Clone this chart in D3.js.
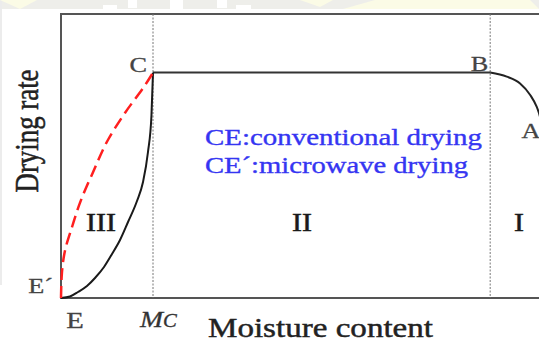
<!DOCTYPE html>
<html lang="en">
<head>
  <meta charset="UTF-8">
  <title>Drying rate curve</title>
  <script src="https://d3js.org/d3.v7.min.js"></script>
  <style>
    body { margin: 0; background: #fff; }
  </style>
</head>
<body>
<div id="chart"></div>
<script>
// key moisture contents (E, Mc, B) and the constant rate of period II
const moistureE = 0;
const moistureMc = 0.2;
const moistureB = 0.933;
const constantRate = 1.0;

// conventional drying, falling-rate period III (E -> C)
const convMoisture = [0, 0.0196, 0.037, 0.0565, 0.0739, 0.0935, 0.1109, 0.1283, 0.1457, 0.1652, 0.1783, 0.1891, 0.1967, 0.2];
const convRate     = [0, 0.0067, 0.0266, 0.0532, 0.0887, 0.1375, 0.1952, 0.2573, 0.3372, 0.4303, 0.5146, 0.6477, 0.8119, 1.0];

// microwave drying (E' -> C)
const microMoisture = [0, 0.002, 0.009, 0.024, 0.041, 0.059, 0.067, 0.102, 0.139, 0.183, 0.2];
const microRate     = [0, 0.111, 0.213, 0.315, 0.421, 0.510, 0.546, 0.701, 0.821, 0.945, 1.0];

// warm-up period I (B -> A)
const warmMoisture = [0.933, 0.969, 0.998, 1.020, 1.034, 1.039, 1.048];
const warmRate     = [1.0, 0.982, 0.952, 0.901, 0.849, 0.821, 0.745];

const legendLines = ["CE:conventional drying", "CE\u00B4:microwave drying"];
const zoneLabels = ["III", "II", "I"];

const FONT = "'Liberation Serif', 'Times New Roman', Times, serif";
const width = 539, height = 342;
const svg = d3.select("#chart").append("svg")
  .attr("width", width)
  .attr("height", height)
  .attr("font-family", FONT);

const x = d3.scaleLinear().domain([0, 1.1]).range([61, 567]);
const y = d3.scaleLinear().domain([0, 1.26]).range([298, 14]);

// faint scanned background at the top
svg.append("rect").attr("x", 0).attr("y", 0).attr("width", width).attr("height", 9).attr("fill", "#eeeeea");
svg.append("rect").attr("x", 0).attr("y", 0).attr("width", 2).attr("height", 285).attr("fill", "#ececec");
[[0, 0, 37, 0, 20, 9], [300, 0, 333, 0, 320, 7], [343, 9, 375, 0, 530, 0, 539, 9]].forEach(p => {
  const pts = [];
  for (let i = 0; i < p.length; i += 2) pts.push(p[i] + "," + p[i + 1]);
  svg.append("polygon").attr("points", pts.join(" ")).attr("fill", "#fbfbe6");
});
[[103, 5, 14, 4], [128, 0, 9, 8], [170, 0, 13, 9], [217, 0, 10, 8], [236, 5, 15, 4]].forEach(r => {
  svg.append("rect").attr("x", r[0]).attr("y", r[1]).attr("width", r[2]).attr("height", r[3]).attr("fill", "#fff");
});

// frame
svg.append("rect")
  .attr("x", x(0)).attr("y", y(1.26))
  .attr("width", x(1.1) - x(0)).attr("height", y(0) - y(1.26))
  .attr("fill", "none").attr("stroke", "#555").attr("stroke-width", 2);

// dotted boundaries at Mc and B
[moistureMc, moistureB].forEach(m => {
  svg.append("line")
    .attr("x1", x(m)).attr("x2", x(m))
    .attr("y1", y(1.26)).attr("y2", y(0))
    .attr("stroke", "#777").attr("stroke-width", 1)
    .attr("stroke-dasharray", "2,1.5");
});

const lineX = d3.line()
  .x(d => x(d[0]))
  .y(d => y(d[1]))
  .curve(d3.curveMonotoneX);

const lineY = d3.line()
  .x(d => x(d[0]))
  .y(d => y(d[1]))
  .curve(d3.curveMonotoneY);

// constant rate period II
svg.append("path")
  .attr("d", d3.line()([[x(moistureMc), y(constantRate)], [x(moistureB), y(constantRate)]]))
  .attr("stroke", "#333").attr("stroke-width", 2).attr("fill", "none");

svg.append("path")
  .attr("d", lineX(d3.zip(warmMoisture, warmRate)))
  .attr("stroke", "#222").attr("stroke-width", 2).attr("fill", "none");

svg.append("path")
  .attr("d", lineX(d3.zip(convMoisture, convRate)))
  .attr("stroke", "#1a1a1a").attr("stroke-width", 2).attr("fill", "none");

svg.append("path")
  .attr("d", lineY(d3.zip(microMoisture, microRate)))
  .attr("stroke", "#ff1f1f").attr("stroke-width", 2.5).attr("fill", "none")
  .attr("stroke-dasharray", "12,6");

// text helper, the scan is stretched horizontally
function label(px, py, txt, size, anchor, fill, sx, sw) {
  return svg.append("text")
    .attr("transform", `translate(${px},${py}) scale(${sx || 1.25},1)`)
    .attr("text-anchor", anchor)
    .attr("font-size", size)
    .attr("fill", fill)
    .attr("stroke", fill).attr("stroke-width", sw || 0.3)
    .text(txt);
}

label(x(moistureMc) - 6, y(constantRate) - 1, "C", 21, "end", "#444");
label(x(moistureB) - 2, y(constantRate) - 2, "B", 21, "end", "#444");
label(531, 138, "A", 21, "middle", "#444");
label(53, 293, "E\u00B4", 21, "end", "#444");
label(x(moistureE) + 14, 328, "E", 23, "middle", "#444");

const mc = svg.append("text")
  .attr("transform", "translate(140,327) scale(1.15,1)")
  .attr("font-style", "italic").attr("fill", "#333").attr("font-size", 24)
  .attr("stroke", "#333").attr("stroke-width", 0.3);
mc.append("tspan").text("M");
mc.append("tspan").attr("font-size", 18).text("C");

svg.append("text")
  .attr("x", 208).attr("y", 337)
  .attr("font-size", 27).attr("fill", "#222")
  .attr("stroke", "#222").attr("stroke-width", 0.45)
  .attr("textLength", 225).attr("lengthAdjust", "spacingAndGlyphs")
  .text("Moisture content");

svg.append("text")
  .attr("transform", "translate(38,131) scale(1.3,1) rotate(-90)")
  .attr("text-anchor", "middle")
  .attr("font-size", 26).attr("fill", "#222")
  .attr("stroke", "#222").attr("stroke-width", 0.4)
  .attr("textLength", 123).attr("lengthAdjust", "spacingAndGlyphs")
  .text("Drying rate");

const legendWidths = [277, 263];
legendLines.forEach((t, i) => {
  svg.append("text")
    .attr("x", 205).attr("y", 144.5 + i * 28.5)
    .attr("font-size", 22.5).attr("fill", "#3535f2")
    .attr("stroke", "#3535f2").attr("stroke-width", 0.35)
    .attr("textLength", legendWidths[i]).attr("lengthAdjust", "spacingAndGlyphs")
    .text(t);
});

const zoneCenters = [101, 302, 519];
zoneLabels.forEach((t, i) => {
  label(zoneCenters[i], 231, t, 26, "middle", "#1a1a1a", 1.15, 0.5);
});
</script>
</body>
</html>
